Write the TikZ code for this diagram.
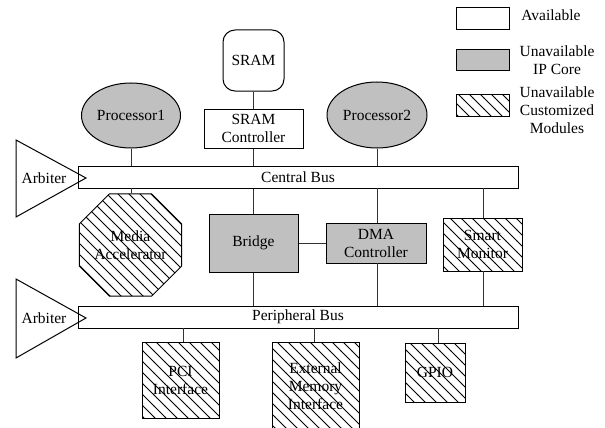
\documentclass[tikz,border=0pt]{standalone}
\usepackage{fontspec}
\setmainfont{Liberation Serif}
\usetikzlibrary{shapes.geometric,patterns}

% wide diagonal hatching (top-left to bottom-right)
\pgfdeclarepatternformonly{widehatch}{\pgfqpoint{-1pt}{-1pt}}{\pgfqpoint{12pt}{12pt}}{\pgfqpoint{11pt}{11pt}}{%
  \pgfsetlinewidth{0.8pt}%
  \pgfpathmoveto{\pgfqpoint{-0.1pt}{11.1pt}}%
  \pgfpathlineto{\pgfqpoint{11.1pt}{-0.1pt}}%
  \pgfusepath{stroke}}

\definecolor{ipgray}{RGB}{192,192,192}

\tikzset{
  every node/.style={font=\fontsize{15.5}{18}\selectfont, align=center},
  box/.style={draw, line width=1pt, inner sep=0pt},
  avail/.style={box, fill=white},
  ipcore/.style={box, fill=ipgray},
  custom/.style={box, pattern=widehatch},
  wire/.style={line width=1pt, draw=black!80},
  busbar/.style={draw, line width=1pt, fill=white},
  arb/.style={draw, line width=1pt, line join=miter},
}

\begin{document}
\begin{tikzpicture}[x=1pt, y=-1pt]
\useasboundingbox (0,0) rectangle (605,428);

% ---------- memory and processors ----------
\node[avail, rounded corners=12pt, minimum width=61pt, minimum height=61pt] (sram) at (253.5,60.5) {SRAM};
\node[avail, minimum width=99pt, minimum height=39pt] (sramc) at (253.5,128.5) {SRAM\\Controller};
\node[ipcore, ellipse, minimum width=99pt, minimum height=65pt] (p1) at (131,115.5) {Processor1};
\node[ipcore, ellipse, minimum width=100pt, minimum height=66pt] (p2) at (377,115) {Processor2};

% ---------- central bus ----------
\node[busbar, minimum width=440pt, minimum height=22pt, inner sep=0pt] (cbus) at (298,177) {Central Bus};
\node[anchor=center] (arb1) at (44,178) {Arbiter};
\draw[arb] (16,140) -- (86,178) -- (16,217) -- cycle;

% ---------- modules between the buses ----------
\node[custom, regular polygon, regular polygon sides=8, minimum size=96.3pt] (media) at (130.5,245) {Media\\Accelerator};
\node[ipcore, minimum width=89pt, minimum height=58pt] (bridge) at (253.5,243) {Bridge};
\node[ipcore, minimum width=100pt, minimum height=40pt] (dma) at (376,243) {DMA\\Controller};
\node[custom, minimum width=79pt, minimum height=53pt] (smart) at (482.5,244.5) {Smart\\Monitor};

% ---------- peripheral bus ----------
\node[busbar, minimum width=440pt, minimum height=22pt, inner sep=0pt] (pbus) at (298,317) {Peripheral Bus};
\node[anchor=center] (arb2) at (44,318) {Arbiter};
\draw[arb] (16,279) -- (86,318) -- (16,358) -- cycle;

% ---------- peripherals ----------
\node[custom, minimum width=77pt, minimum height=76pt] (pci) at (180.5,380) {PCI\\Interface};
\node[custom, minimum width=87pt, minimum height=88pt] (ext) at (315.5,386) {External\\Memory\\Interface};
\node[custom, minimum width=60pt, minimum height=59pt] (gpio) at (435,372.5) {GPIO};

% ---------- connections ----------
\draw[wire] (sram) -- (sramc);
\draw[wire] (sramc) -- (sramc |- cbus.north);
\draw[wire] (p1) -- (p1 |- cbus.north);
\draw[wire] (p2) -- (p2 |- cbus.north);
\draw[wire] (media.north -| 131,0) -- (131,188);
\draw[wire] (bridge) -- (bridge |- cbus.south);
\draw[wire] (bridge) -- (bridge |- pbus.north);
\draw[wire] (bridge.east) -- (dma.west);
\draw[wire] (377,223) -- (377,188);
\draw[wire] (377,263) -- (377,306);
\draw[wire] (483,218) -- (483,188);
\draw[wire] (483,271) -- (483,306);
\draw[wire] (183,342) -- (183,328);
\draw[wire] (314,342) -- (314,328);
\draw[wire] (438,343) -- (438,328);

% ---------- legend ----------
\node[avail, minimum width=53pt, minimum height=22pt] (lgA) at (482.5,19) {};
\node[anchor=center] (lgAt) at (551,15) {Available};
\node[ipcore, minimum width=53pt, minimum height=21pt] (lgB) at (482.5,60.5) {};
\node[anchor=center] (lgBt) at (557,60) {Unavailable\\IP Core};
\node[custom, minimum width=53pt, minimum height=22pt] (lgC) at (482.5,105) {};
\node[anchor=center] (lgCt) at (557,110) {Unavailable\\Customized\\Modules};
\end{tikzpicture}
\end{document}
